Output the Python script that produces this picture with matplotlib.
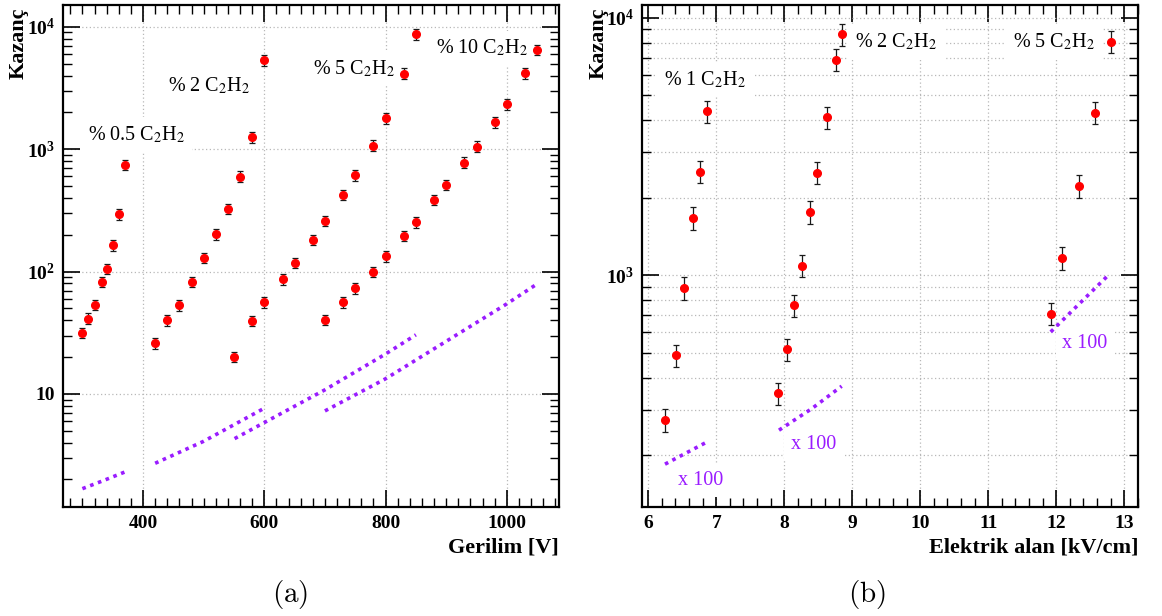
import math
import matplotlib
matplotlib.use("Agg")
import matplotlib.pyplot as plt
from matplotlib.ticker import FixedLocator, FuncFormatter, LogLocator, MultipleLocator, NullFormatter

# ---- gain vs. anode voltage (panel a) ----
volt_05 = [300, 310, 320, 333, 340, 350, 360, 370]
gain_05 = [31.7, 41.3, 53.4, 82.8, 105.8, 165, 295, 745]

volt_2 = [420, 440, 460, 480, 500, 520, 540, 560, 580, 600]
gain_2 = [26.0, 40.0, 53.1, 82.8, 130, 201, 327, 598, 1256, 5350]

volt_5 = [550, 580, 600, 630, 650, 680, 700, 730, 750, 780, 800, 830, 850]
gain_5 = [20.1, 39.7, 56.2, 86.7, 118, 182, 260, 424, 610, 1072, 1796, 4157, 8730]

volt_10 = [700, 730, 750, 780, 800, 830, 850, 880, 900, 930, 950, 980, 1000, 1030, 1050]
gain_10 = [40.3, 56.2, 73.2, 100, 134, 196, 254, 386, 512, 779, 1052, 1665, 2338, 4190, 6500]

# simulated gain curves (panel a)
sim_volt_05 = [300, 335, 370]
sim_gain_05 = [1.68, 1.96, 2.30]
sim_volt_2 = [420, 500, 600]
sim_gain_2 = [2.71, 4.1, 7.64]
sim_volt_5 = [551, 700, 800, 850]
sim_gain_5 = [4.31, 10.8, 21.2, 30.4]
sim_volt_10 = [700, 800, 1000, 1050]
sim_gain_10 = [7.26, 13.3, 54.5, 79.3]

# ---- gain vs. electric field (panel b) ----
field_1 = [6.246, 6.407, 6.529, 6.662, 6.756, 6.868]
egain_1 = [274.5, 489, 894, 1669, 2526, 4329]
field_2 = [7.912, 8.040, 8.147, 8.256, 8.382, 8.485, 8.624, 8.765, 8.844]
egain_2 = [348, 516, 765, 1091, 1760, 2503, 4103, 6871, 8614]
field_5 = [11.918, 12.088, 12.334, 12.574, 12.809]
egain_5 = [710, 1167, 2221, 4279, 8070]

# simulated gain curves, scaled by 100 (panel b)
sim_field_1 = [6.246, 6.849]
sim_egain_1 = [184.8, 224.3]
sim_field_2 = [7.922, 8.40, 8.844]
sim_egain_2 = [250.4, 303, 371]
sim_field_5 = [11.918, 12.779]
sim_egain_5 = [602.6, 1009]

rel_err = 0.10  # relative uncertainty on measured gain

labels_a = ["% 0.5 C$_2$H$_2$", "% 2 C$_2$H$_2$", "% 5 C$_2$H$_2$", "% 10 C$_2$H$_2$"]
labels_b = ["% 1 C$_2$H$_2$", "% 2 C$_2$H$_2$", "% 5 C$_2$H$_2$"]
scale_label = "x 100"

plt.rcParams["font.family"] = ["Liberation Serif", "DejaVu Serif"]
plt.rcParams["mathtext.fontset"] = "custom"
plt.rcParams["mathtext.rm"] = "Liberation Serif:bold"
plt.rcParams["mathtext.it"] = "Liberation Serif:bold:italic"
plt.rcParams["mathtext.bf"] = "Liberation Serif:bold"

RED = "#ff0000"
PURPLE = "#9a1cff"
GRID = "#b8b8b8"
W, H = 1162, 616

fig = plt.figure(figsize=(W / 100, H / 100), dpi=100)
axL = fig.add_axes([63 / W, 1 - 507 / H, 496 / W, 502 / H])
axR = fig.add_axes([642.3 / W, 1 - 507 / H, 496 / W, 502 / H])


def log_label(v, pos):
    e = int(round(math.log10(v)))
    if e == 1:
        return "10"
    return r"$10^{%d}$" % e


def style_axis(ax):
    for s in ax.spines.values():
        s.set_linewidth(1.6)
    ax.tick_params(which="both", direction="in", top=True, right=True,
                   labelsize=14, pad=6)
    ax.tick_params(which="major", length=12.5, width=1.2)
    ax.tick_params(which="minor", length=6.5, width=1.0)
    for lab in ax.get_xticklabels() + ax.get_yticklabels():
        lab.set_fontweight("bold")


def data(ax, x, y):
    ax.errorbar(x, y, yerr=[rel_err * v for v in y], fmt="o", color=RED,
                markersize=5.5, ecolor="#1a1a1a", elinewidth=0.9,
                capsize=2, capthick=0.9, zorder=4)


def sim(ax, x, y):
    ax.plot(x, y, color=PURPLE, linestyle=(0, (1, 1.3)), linewidth=2.6,
            zorder=3)


def tag(ax, x, y, s, color="black"):
    ax.text(x, y, s, transform=ax.transAxes, fontsize=14.5, color=color,
            math_fontfamily="stix", ha="left", va="baseline", zorder=3.5,
            bbox=dict(facecolor="white", edgecolor="none", pad=5))


def titles(ax, xtitle, ytitle_x):
    ax.set_xlabel(xtitle, fontsize=16, fontweight="bold")
    ax.xaxis.set_label_coords(1.0, -0.080)
    ax.xaxis.label.set_ha("right")
    ax.xaxis.label.set_va("center")
    # vertical axis title, top-aligned at the upper end of the axis
    ax.text(ytitle_x, 0.996, "Kazanç", transform=ax.transAxes, rotation=90,
            fontsize=16, fontweight="bold", ha="center", va="top")


# ---------------- panel (a) ----------------
axL.set_yscale("log")
axL.set_xlim(268, 1086)
axL.set_ylim(1.19, 1.51e4)
axL.xaxis.set_major_locator(FixedLocator([400, 600, 800, 1000]))
axL.xaxis.set_minor_locator(MultipleLocator(20))
axL.yaxis.set_major_locator(FixedLocator([10, 100, 1000, 10000]))
axL.yaxis.set_major_formatter(FuncFormatter(log_label))
axL.yaxis.set_minor_locator(LogLocator(base=10, subs=range(2, 10), numticks=20))
axL.yaxis.set_minor_formatter(NullFormatter())
axL.grid(True, which="major", color=GRID, linestyle=(0, (1, 2)), linewidth=0.9)
axL.set_axisbelow(True)
style_axis(axL)

for vx, gy in [(volt_05, gain_05), (volt_2, gain_2), (volt_5, gain_5), (volt_10, gain_10)]:
    data(axL, vx, gy)
for vx, gy in [(sim_volt_05, sim_gain_05), (sim_volt_2, sim_gain_2),
               (sim_volt_5, sim_gain_5), (sim_volt_10, sim_gain_10)]:
    sim(axL, vx, gy)

tag(axL, 0.050, 0.731, labels_a[0])
tag(axL, 0.212, 0.829, labels_a[1])
tag(axL, 0.505, 0.862, labels_a[2])
tag(axL, 0.752, 0.904, labels_a[3])

titles(axL, "Gerilim [V]", -0.090)

axL.text(0.4577, -0.175, r"$\mathrm{(a)}$", transform=axL.transAxes,
         fontsize=21, math_fontfamily="cm", ha="center", va="center")

# ---------------- panel (b) ----------------
axR.set_yscale("log")
axR.set_xlim(5.912, 13.206)
axR.set_ylim(126, 1.12e4)
axR.xaxis.set_major_locator(MultipleLocator(1))
axR.xaxis.set_minor_locator(MultipleLocator(0.2))
axR.yaxis.set_major_locator(FixedLocator([1000, 10000]))
axR.yaxis.set_major_formatter(FuncFormatter(log_label))
axR.yaxis.set_minor_locator(LogLocator(base=10, subs=range(2, 10), numticks=20))
axR.yaxis.set_minor_formatter(NullFormatter())
axR.grid(True, which="major", axis="x", color=GRID, linestyle=(0, (1, 2)), linewidth=0.9)
axR.grid(True, which="both", axis="y", color=GRID, linestyle=(0, (1, 2)), linewidth=0.9)
axR.set_axisbelow(True)
style_axis(axR)

for fx, gy in [(field_1, egain_1), (field_2, egain_2), (field_5, egain_5)]:
    data(axR, fx, gy)
for fx, gy in [(sim_field_1, sim_egain_1), (sim_field_2, sim_egain_2),
               (sim_field_5, sim_egain_5)]:
    sim(axR, fx, gy)

tag(axR, 0.044, 0.841, labels_b[0])
tag(axR, 0.429, 0.915, labels_b[1])
tag(axR, 0.748, 0.915, labels_b[2])
tag(axR, 0.071, 0.044, scale_label, PURPLE)
tag(axR, 0.299, 0.1155, scale_label, PURPLE)
tag(axR, 0.847, 0.317, scale_label, PURPLE)

titles(axR, "Elektrik alan [kV/cm]", -0.089)

axR.text(0.4536, -0.175, r"$\mathrm{(b)}$", transform=axR.transAxes,
         fontsize=21, math_fontfamily="cm", ha="center", va="center")

fig.savefig("out.png", dpi=100)
